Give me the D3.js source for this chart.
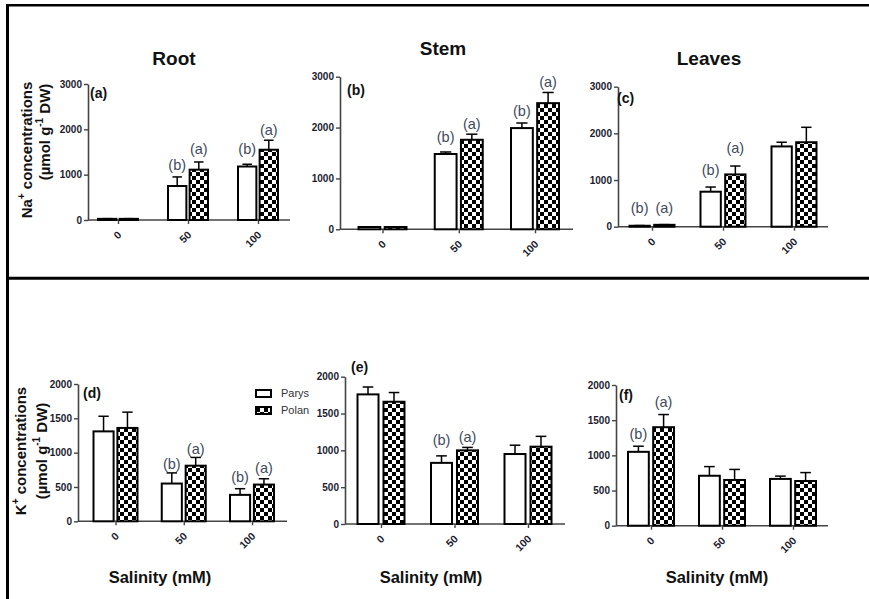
<!DOCTYPE html>
<html>
<head>
<meta charset="utf-8">
<script src="https://cdn.jsdelivr.net/npm/d3@7"></script>
<style>
  body { margin: 0; background: #fff; }
  svg { display: block; font-family: "Liberation Sans", Arial, sans-serif; }
</style>
</head>
<body>
<svg id="chart" width="869" height="599"></svg>
<script>
const categories = ["0", "50", "100"];
const cultivars = ["Parys", "Polan"];

// Na+ concentrations (umol g-1 DW)
const naRootParys = [25, 750, 1180];
const naRootParysSE = [5, 200, 50];
const naRootPolan = [25, 1110, 1550];
const naRootPolanSE = [5, 170, 210];

const naStemParys = [45, 1480, 1990];
const naStemParysSE = [5, 40, 100];
const naStemPolan = [45, 1760, 2480];
const naStemPolanSE = [5, 110, 210];

const naLeafParys = [20, 750, 1720];
const naLeafParysSE = [5, 100, 90];
const naLeafPolan = [40, 1120, 1810];
const naLeafPolanSE = [5, 180, 320];

// K+ concentrations (umol g-1 DW)
const kRootParys = [1310, 550, 385];
const kRootParysSE = [220, 155, 90];
const kRootPolan = [1360, 810, 535];
const kRootPolanSE = [230, 120, 85];

const kStemParys = [1760, 830, 950];
const kStemParysSE = [100, 95, 120];
const kStemPolan = [1660, 1000, 1050];
const kStemPolanSE = [125, 40, 140];

const kLeafParys = [1050, 710, 665];
const kLeafParysSE = [80, 130, 40];
const kLeafPolan = [1400, 650, 635];
const kLeafPolanSE = [180, 150, 120];

// significance letters [Parys, Polan] per salinity level, and the level they sit at
const naRootLetters = [["", ""], ["(b)", "(a)"], ["(b)", "(a)"]];
const naRootLetterAt = [[0, 0], [1040, 1390], [1390, 1810]];
const naStemLetters = [["", ""], ["(b)", "(a)"], ["(b)", "(a)"]];
const naStemLetterAt = [[0, 0], [1660, 1930], [2170, 2740]];
const naLeafLetters = [["(b)", "(a)"], ["(b)", "(a)"], ["", ""]];
const naLeafLetterAt = [[250, 250], [1065, 1536], [0, 0]];
const kRootLetters = [["", ""], ["(b)", "(a)"], ["(b)", "(a)"]];
const kRootLetterAt = [[0, 0], [722, 951], [529, 660]];
const kStemLetters = [["", ""], ["(b)", "(a)"], ["", ""]];
const kStemLetterAt = [[0, 0], [1045, 1076], [0, 0]];
const kLeafLetters = [["(b)", "(a)"], ["", ""], ["", ""]];
const kLeafLetterAt = [[1190, 1645], [0, 0], [0, 0]];

const naTicks = [0, 1000, 2000, 3000];
const kTicks = [0, 500, 1000, 1500, 2000];

const svg = d3.select("#chart");

// checkered fill for Polan
const pat = svg.append("defs").append("pattern")
  .attr("id", "checks")
  .attr("patternUnits", "userSpaceOnUse")
  .attr("width", 8).attr("height", 8);
pat.append("rect").attr("width", 8).attr("height", 8).attr("fill", "#fff");
pat.append("rect").attr("width", 4).attr("height", 4).attr("fill", "#000");
pat.append("rect").attr("x", 4).attr("y", 4).attr("width", 4).attr("height", 4).attr("fill", "#000");

// frame lines
svg.append("line").attr("x1", 6).attr("x2", 869).attr("y1", 5.3).attr("y2", 5.3)
  .attr("stroke", "#000").attr("stroke-width", 2.6);
svg.append("line").attr("x1", 7.5).attr("x2", 7.5).attr("y1", 4).attr("y2", 599)
  .attr("stroke", "#000").attr("stroke-width", 3);
svg.append("line").attr("x1", 9).attr("x2", 869).attr("y1", 278.3).attr("y2", 278.3)
  .attr("stroke", "#000").attr("stroke-width", 3);

const panels = [
  {tag: "(a)", parys: naRootParys, parysSE: naRootParysSE, polan: naRootPolan, polanSE: naRootPolanSE,
   letters: naRootLetters, letterAt: naRootLetterAt, ticks: naTicks,
   ax: 88, axEnd: 290, y0: 220, yTop: 84, c0: 118, c2: 258, bw: 17, gap: 6, tagX: 90, tagY: 98},
  {tag: "(b)", parys: naStemParys, parysSE: naStemParysSE, polan: naStemPolan, polanSE: naStemPolanSE,
   letters: naStemLetters, letterAt: naStemLetterAt, ticks: naTicks,
   ax: 340, axEnd: 573, y0: 229.3, yTop: 76.7, c0: 382.5, c2: 535, bw: 20, gap: 8, tagX: 347, tagY: 95},
  {tag: "(c)", parys: naLeafParys, parysSE: naLeafParysSE, polan: naLeafPolan, polanSE: naLeafPolanSE,
   letters: naLeafLetters, letterAt: naLeafLetterAt, ticks: naTicks,
   ax: 618, axEnd: 828, y0: 226.7, yTop: 86.7, c0: 652, c2: 794, bw: 18.5, gap: 8, tagX: 617, tagY: 103},
  {tag: "(d)", parys: kRootParys, parysSE: kRootParysSE, polan: kRootPolan, polanSE: kRootPolanSE,
   letters: kRootLetters, letterAt: kRootLetterAt, ticks: kTicks,
   ax: 78, axEnd: 287, y0: 521.3, yTop: 384, c0: 115.5, c2: 252, bw: 18.5, gap: 7, tagX: 83, tagY: 398},
  {tag: "(e)", parys: kStemParys, parysSE: kStemParysSE, polan: kStemPolan, polanSE: kStemPolanSE,
   letters: kStemLetters, letterAt: kStemLetterAt, ticks: kTicks,
   ax: 345, axEnd: 565, y0: 524, yTop: 376.7, c0: 381, c2: 528, bw: 19, gap: 9, tagX: 351, tagY: 372},
  {tag: "(f)", parys: kLeafParys, parysSE: kLeafParysSE, polan: kLeafPolan, polanSE: kLeafPolanSE,
   letters: kLeafLetters, letterAt: kLeafLetterAt, ticks: kTicks,
   ax: 616, axEnd: 828, y0: 525.7, yTop: 385, c0: 651, c2: 793, bw: 19, gap: 8, tagX: 619, tagY: 400}
];

panels.forEach(function(p) {
  const g = svg.append("g");
  const y = d3.scaleLinear().domain([0, d3.max(p.ticks)]).range([p.y0, p.yTop]);
  const x = d3.scalePoint().domain(categories).range([p.c0, p.c2]);
  const sub = d3.scaleBand().domain(cultivars)
    .range([-(p.bw + p.gap / 2), p.bw + p.gap / 2])
    .paddingInner(p.gap / (2 * p.bw + p.gap));

  // y axis
  const yAxis = g.append("g").attr("transform", "translate(" + p.ax + ",0)")
    .call(d3.axisLeft(y).tickValues(p.ticks).tickFormat(d3.format("d"))
      .tickSize(4).tickSizeOuter(0).tickPadding(2));
  yAxis.select(".domain").attr("stroke", "#444").attr("stroke-width", 1.6);
  yAxis.selectAll(".tick line").attr("stroke", "#444").attr("stroke-width", 1.4);
  yAxis.selectAll("text").attr("font-size", 10).attr("font-weight", "bold").attr("fill", "#1c1c30")
    .attr("font-family", "Liberation Sans, Arial, sans-serif");

  // x axis
  g.append("line").attr("x1", p.ax).attr("x2", p.axEnd).attr("y1", p.y0).attr("y2", p.y0)
    .attr("stroke", "#444").attr("stroke-width", 1.6);
  const xAxis = g.append("g").attr("transform", "translate(0," + p.y0 + ")")
    .call(d3.axisBottom(x).tickSize(4).tickSizeOuter(0));
  xAxis.select(".domain").remove();
  xAxis.selectAll(".tick line").attr("stroke", "#444").attr("stroke-width", 1.4);
  xAxis.selectAll("text")
    .attr("x", 0).attr("y", 0).attr("dy", "0.35em")
    .attr("text-anchor", "end")
    .attr("transform", "translate(1,13) rotate(-45)")
    .attr("font-size", 10.5).attr("font-weight", "bold").attr("fill", "#1c1c30")
    .attr("font-family", "Liberation Sans, Arial, sans-serif");

  const rows = [];
  categories.forEach(function(c, i) {
    rows.push({cat: c, cv: "Parys", v: p.parys[i], se: p.parysSE[i], lab: p.letters[i][0], at: p.letterAt[i][0]});
    rows.push({cat: c, cv: "Polan", v: p.polan[i], se: p.polanSE[i], lab: p.letters[i][1], at: p.letterAt[i][1]});
  });
  const cx = d => x(d.cat) + sub(d.cv) + sub.bandwidth() / 2;

  // error bars (upward only)
  const err = g.append("g").attr("stroke", "#000").attr("stroke-width", 1.5);
  err.selectAll(".ev").data(rows).enter().append("line")
    .attr("x1", cx).attr("x2", cx)
    .attr("y1", d => y(d.v)).attr("y2", d => y(d.v + d.se));
  err.selectAll(".eh").data(rows).enter().append("line")
    .attr("x1", d => cx(d) - p.bw * 0.28).attr("x2", d => cx(d) + p.bw * 0.28)
    .attr("y1", d => y(d.v + d.se)).attr("y2", d => y(d.v + d.se));

  // bars
  g.selectAll(".bar").data(rows).enter().append("rect")
    .attr("x", d => x(d.cat) + sub(d.cv))
    .attr("width", sub.bandwidth())
    .attr("y", d => y(d.v))
    .attr("height", d => y(0) - y(d.v))
    .attr("fill", d => d.cv === "Polan" ? "url(#checks)" : "#fff")
    .attr("stroke", "#000").attr("stroke-width", 2);

  // significance letters
  g.selectAll(".lab").data(rows.filter(d => d.lab)).enter().append("text")
    .attr("x", cx).attr("y", d => y(d.at) - 2.5)
    .attr("text-anchor", "middle")
    .attr("font-size", 14.5).attr("fill", "#3f4a5e")
    .text(d => d.lab);

  // panel tag
  g.append("text").attr("x", p.tagX).attr("y", p.tagY)
    .attr("font-size", 14).attr("font-weight", "bold").attr("fill", "#111")
    .text(p.tag);
});

// organ titles
const organs = ["Root", "Stem", "Leaves"];
const organX = [174, 443, 709];
const organY = [65, 55, 65];
organs.forEach(function(t, i) {
  svg.append("text").attr("x", organX[i]).attr("y", organY[i])
    .attr("text-anchor", "middle").attr("font-size", 19).attr("font-weight", "bold")
    .attr("fill", "#111").text(t);
});

// x titles
[160, 431, 717].forEach(function(xc) {
  svg.append("text").attr("x", xc).attr("y", 583)
    .attr("text-anchor", "middle").attr("font-size", 16.5).attr("font-weight", "bold")
    .attr("fill", "#111").text("Salinity (mM)");
});

// y titles
function yTitle(ion, x1, y1, x2, y2) {
  const t1 = svg.append("text")
    .attr("transform", "translate(" + x1 + "," + y1 + ") rotate(-90)")
    .attr("text-anchor", "middle").attr("font-size", 15).attr("font-weight", "bold").attr("fill", "#111");
  t1.append("tspan").text(ion);
  t1.append("tspan").attr("font-size", 10).attr("dy", -7).text("+");
  t1.append("tspan").attr("dy", 7).text(" concentrations");
  const t2 = svg.append("text")
    .attr("transform", "translate(" + x2 + "," + y2 + ") rotate(-90)")
    .attr("text-anchor", "middle").attr("font-size", 15).attr("font-weight", "bold").attr("fill", "#111");
  t2.append("tspan").text("(\u00b5mol g");
  t2.append("tspan").attr("font-size", 10).attr("dy", -7).text("-1");
  t2.append("tspan").attr("dy", 7).text(" DW)");
}
yTitle("Na", 32, 150, 50, 132);
yTitle("K", 26, 451, 47, 451);

// legend
const leg = svg.append("g");
cultivars.forEach(function(c, i) {
  leg.append("rect").attr("x", 256).attr("y", 390 + i * 17).attr("width", 15).attr("height", 7)
    .attr("fill", c === "Polan" ? "url(#checks)" : "#fff")
    .attr("stroke", "#000").attr("stroke-width", 2);
  leg.append("text").attr("x", 281).attr("y", 397 + i * 17)
    .attr("font-size", 11).attr("fill", "#333").text(c);
});
</script>
</body>
</html>
